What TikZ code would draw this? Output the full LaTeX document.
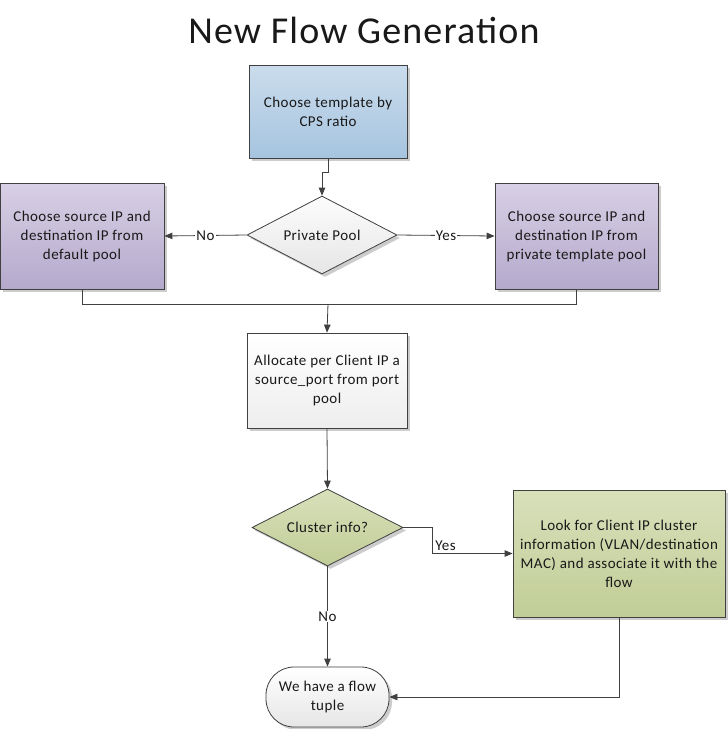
\documentclass[tikz,border=0pt]{standalone}
\usepackage{fontspec}
\setmainfont{Carlito}[LetterSpace=3]
\usetikzlibrary{shapes.geometric,shadows,arrows.meta}

\definecolor{linec}{RGB}{64,64,64}
\definecolor{bluetop}{RGB}{202,220,236}
\definecolor{bluebot}{RGB}{166,196,223}
\definecolor{purptop}{RGB}{216,208,229}
\definecolor{purpbot}{RGB}{180,169,204}
\definecolor{greentop}{RGB}{216,224,186}
\definecolor{greenbot}{RGB}{193,205,151}
\definecolor{greytop}{RGB}{252,252,252}
\definecolor{greybot}{RGB}{230,230,230}

\begin{document}
\begin{tikzpicture}[x=1pt, y=-1pt,
  every node/.style={font=\fontsize{15}{19}\selectfont, align=center, text=black!90},
  basebox/.style={draw=linec, line width=0.8pt, inner sep=0pt,
    drop shadow={shadow xshift=3pt, shadow yshift=-3pt, fill=black!20, opacity=1}},
  box/.style={basebox, rectangle},
  choice/.style={basebox, diamond, aspect=2},
  flow/.style={draw=linec, line width=0.8pt, -{Triangle[length=8pt,width=6.5pt]}},
  lbl/.style={fill=white, inner sep=1pt}]

  \fill[white] (0,0) rectangle (728,729);
  \useasboundingbox (0,0) rectangle (728,729);

  \node (title) at (364,30) {\fontsize{38}{44}\selectfont New Flow Generation};

  \node[box, top color=bluetop, bottom color=bluebot, minimum width=158pt, minimum height=93pt]
    (tmpl) at (328,111.5) {Choose template by\\CPS ratio};
  \node[choice, top color=greytop, bottom color=greybot, minimum width=150pt, minimum height=78pt]
    (pool) at (322,235) {Private Pool};
  \node[box, top color=purptop, bottom color=purpbot, minimum width=164pt, minimum height=106pt]
    (dflt) at (82,236) {Choose source IP and\\destination IP from\\default pool};
  \node[box, top color=purptop, bottom color=purpbot, minimum width=163pt, minimum height=106pt]
    (priv) at (576.5,236) {Choose source IP and\\destination IP from\\private template pool};
  \node[box, top color=white, bottom color=greybot!70, minimum width=160pt, minimum height=95pt]
    (port) at (327,380.5) {Allocate per Client IP a\\source\_port from port\\pool};
  \node[choice, top color=greentop, bottom color=greenbot, minimum width=151pt, minimum height=77pt]
    (clus) at (327.5,527.5) {Cluster info?};
  \node[box, top color=greentop, bottom color=greenbot, minimum width=212pt, minimum height=127pt]
    (look) at (619,553.5) {Look for Client IP cluster\\information (VLAN/destination\\MAC) and associate it with the\\flow};
  \node[box, rounded corners=28pt, top color=white, bottom color=greybot, minimum width=123pt, minimum height=60pt]
    (tuple) at (327.5,697) {We have a flow\\tuple};

  \coordinate (join) at (328,304);

  \draw[flow] (tmpl.south) -- ++(0,14) -| (pool.north);
  \draw[flow] (pool.west) -- node[lbl]{No} (dflt.east);
  \draw[flow] (pool.east) -- node[lbl]{Yes} (priv.west);
  \draw[draw=linec, line width=0.8pt] (dflt.south) -- ++(0,15) -| (priv.south);
  \draw[flow] (join) -- (port.north);
  \draw[flow] (port.south) -- (clus.north);
  \draw[flow] (clus.east) -- ++(29,0) |- node[lbl, pos=0.5, anchor=west, xshift=1.5pt, yshift=8pt]{Yes} (look.west);
  \draw[flow] (clus.south) -- node[lbl]{No} (tuple.north);
  \draw[flow] (look.south) |- (tuple.east);

\end{tikzpicture}
\end{document}
